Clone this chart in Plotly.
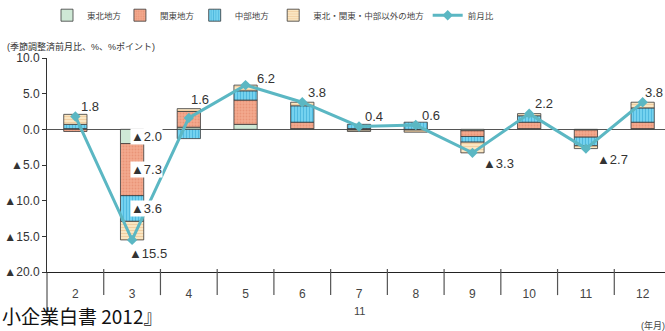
import plotly.graph_objects as go

# Monthly data (2011): contributions by region to the month-on-month change
months = ["2", "3", "4", "5", "6", "7", "8", "9", "10", "11", "12"]
tohoku = [0.1, -2.0, 0.3, 0.7, 0.1, -0.1, 0.0, -0.2, 0.1, -0.1, 0.1]
kanto = [-0.3, -7.3, 2.2, 3.4, 0.9, 0.1, -0.1, -0.8, 0.9, -1.0, 0.9]
chubu = [0.6, -3.6, -1.3, 1.3, 2.3, 0.6, 1.0, -0.8, 0.9, -1.2, 2.0]
others = [1.4, -2.6, 0.4, 0.8, 0.5, -0.2, -0.3, -1.5, 0.3, -0.4, 0.8]
mom = [1.8, -15.5, 1.6, 6.2, 3.8, 0.4, 0.6, -3.3, 2.2, -2.7, 3.8]

y_tickvals = [10, 5, 0, -5, -10, -15, -20]


def fmt(v):
    return f"{v:.1f}" if v >= 0 else f"▲{abs(v):.1f}"


FONT = "Arial, Liberation Sans, Noto Sans CJK JP, sans-serif"
TXT = "#333333"
OUTLINE = dict(color="#3a3a3a", width=0.8)

fig = go.Figure()

series = [
    ("東北地方", tohoku, dict(color="#cfe9d6", line=OUTLINE)),
    ("関東地方", kanto, dict(color="#f3a98e", line=OUTLINE,
                          pattern=dict(shape=".", bgcolor="#f3a98e", fgcolor="#e07f62",
                                       size=3, solidity=0.3))),
    ("中部地方", chubu, dict(color="#6fd0ee", line=OUTLINE,
                          pattern=dict(shape="|", bgcolor="#74d2ef", fgcolor="#2b9fd0",
                                       size=3, solidity=0.35))),
    ("東北・関東・中部以外の地方", others, dict(color="#f8deb0", line=OUTLINE,
                                      pattern=dict(shape="-", bgcolor="#fae6c2", fgcolor="#e9b47a",
                                                   size=3, solidity=0.3))),
]
legend_ids = ["legend", "legend2", "legend3", "legend4", "legend5"]
for (name, vals, marker), lg in zip(series, legend_ids):
    fig.add_trace(go.Bar(x=months, y=vals, name=name, marker=marker, width=0.41, legend=lg))

fig.add_trace(go.Scatter(
    x=months, y=mom, name="前月比", mode="lines+markers", legend=legend_ids[4],
    line=dict(color="#5bb7c3", width=3),
    marker=dict(symbol="diamond", size=8, color="#5bb7c3"),
))

annotations = []
# value labels for the month-on-month line (x given as category index)
shifts = {2: (0, 18), 3: (9, 7), 10: (0, 10)}
for i, v in enumerate(mom):
    if i == 1:
        xs, ys, ya = -5, -4, "top"
    elif v >= 0:
        xs, ys = shifts.get(i, (4, 10))
        ya = "middle"
    else:
        xs, ys, ya = 9, -1, "top"
    annotations.append(dict(x=i, y=v, xref="x", yref="y", text=fmt(v), showarrow=False,
                            xanchor="left", yanchor=ya, xshift=xs, yshift=ys,
                            font=dict(size=13, color=TXT, family=FONT)))

# segment labels inside the March bar
base = 0.0
for vals in (tohoku, kanto, chubu):
    v = vals[1]
    mid = base + v / 2
    base += v
    annotations.append(dict(x=1, y=mid, xref="x", yref="y", text=fmt(v), showarrow=False,
                            xanchor="left", yanchor="middle", xshift=-2, bgcolor="white",
                            borderpad=0, font=dict(size=13, color=TXT, family=FONT)))

annotations += [
    dict(x=-0.068, y=1.056, xref="paper", yref="paper", text="(季節調整済前月比、%、%ポイント)",
         showarrow=False, xanchor="left", yanchor="middle",
         font=dict(size=9, color=TXT, family=FONT)),
    dict(x=5, y=-0.182, xref="x", yref="paper", text="11", showarrow=False,
         xanchor="center", yanchor="middle", font=dict(size=11, color="#444", family=FONT)),
    dict(x=0.958, y=-0.252, xref="paper", yref="paper", text="(年月)", showarrow=False,
         xanchor="left", yanchor="middle", font=dict(size=9, color="#444", family=FONT)),
    dict(x=-0.076, y=-0.2757, xref="paper", yref="paper", text="小企業白書 2012』",
         showarrow=False, xanchor="left", yanchor="bottom",
         font=dict(size=19, color="#111", family="Noto Sans CJK JP, sans-serif")),
]

shapes = [
    # y-axis line continues down through the month labels
    dict(type="line", xref="paper", yref="paper", x0=0, x1=0, y0=0, y1=-0.205,
         line=dict(color="#333", width=1)),
]
# month dividers below the horizontal axis
for k in range(len(months)):
    shapes.append(dict(type="line", xref="x", yref="paper", x0=k + 0.5, x1=k + 0.5,
                       y0=0.014, y1=-0.108, line=dict(color="#555", width=1.2)))

# one legend box per entry, placed side by side across the top
legend_x = [0.0, 0.118, 0.239, 0.366, 0.616]
legend_style = dict(orientation="h", y=1.2, xanchor="left", yanchor="middle",
                    font=dict(size=8.5, color="#444", family=FONT), bgcolor="rgba(0,0,0,0)")
legends = {lg: dict(x=lx, **legend_style) for lg, lx in zip(legend_ids, legend_x)}

fig.update_layout(
    width=665, height=331,
    margin=dict(l=47, r=0, t=58, b=59),
    paper_bgcolor="white", plot_bgcolor="white",
    barmode="relative",
    font=dict(family=FONT, color=TXT),
    showlegend=True,
    annotations=annotations,
    shapes=shapes,
    xaxis=dict(type="category", categoryorder="array", categoryarray=months,
               range=[-0.5, 10.394], showline=True, linecolor="#222", linewidth=1.2,
               ticks="", showgrid=False, zeroline=False, ticklabelstandoff=10,
               tickfont=dict(size=12, color="#444", family=FONT)),
    yaxis=dict(range=[-20, 10], tickvals=y_tickvals, ticktext=[fmt(v) for v in y_tickvals],
               showline=True, linecolor="#333", linewidth=1, ticks="outside", ticklen=4,
               tickcolor="#333", showgrid=False, zeroline=True, zerolinecolor="#555",
               zerolinewidth=1, tickfont=dict(size=12, color=TXT, family=FONT)),
    **legends,
)

fig.write_html("out.html")
